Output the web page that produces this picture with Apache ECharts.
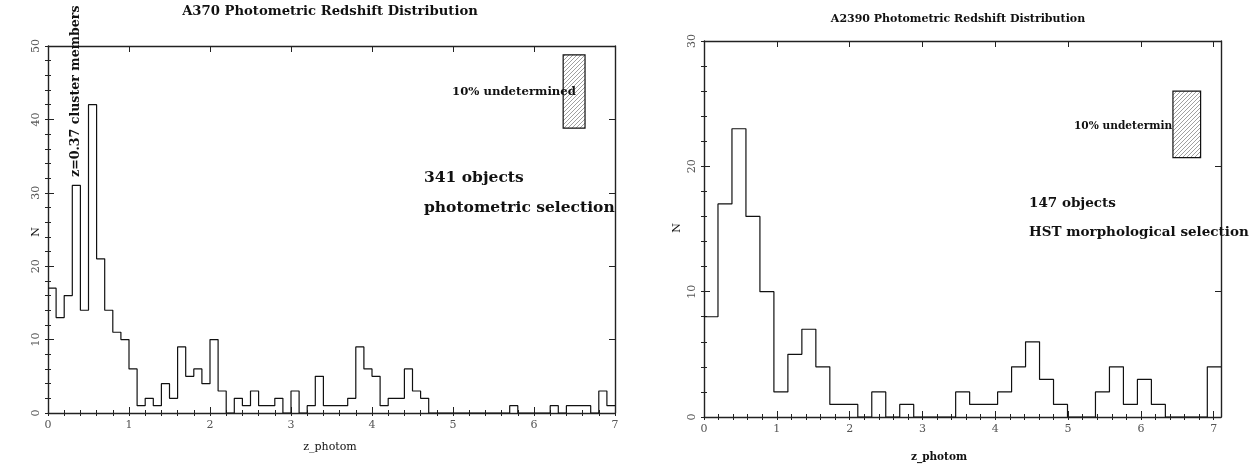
<!DOCTYPE html>
<html><head><meta charset="utf-8">
<script src="https://cdn.jsdelivr.net/npm/echarts@6/dist/echarts.min.js"></script>
<style>html,body{margin:0;padding:0;background:#fff}#c{width:1255px;height:465px}</style>
</head><body><div id="c"></div>
<script>
// ---- data ----
const leftCounts = [17,13,16,31,14,42,21,14,11,10, 6,1,2,1,4,2,9,5,6,4, 10,3,0,2,1,3,1,1,2,0, 3,0,1,5,1,1,1,2,9,6, 5,1,2,2,6,3,2,0,0,0, 0,0,0,0,0,0,0,1,0,0, 0,0,1,0,1,1,1,0,3,1];
const leftBinWidth = 0.1;
const rightCounts = [8,17,23,16,10,2,5,7,4,1, 1,0,2,0,1,0,0,0,2,1, 1,2,4,6,3,1,0,0,2,4, 1,3,1,0,0,0,4];
const rightBinWidth = 0.192;
const leftXTicks = [0,1,2,3,4,5,6,7];
const rightXTicks = [0,1,2,3,4,5,6,7];
const leftYTicks = [0,10,20,30,40,50];
const rightYTicks = [0,10,20,30];
const leftBox = [6.36, 6.63, 38.8, 48.8];   // undetermined box [x0,x1,y0,y1]
const rightBox = [6.44, 6.82, 20.7, 26.0];

// ---- helpers ----
function histPoints(counts, w, xmax){
  const pts = counts.map((v,i)=>[+(i*w).toFixed(4), v]);
  pts.push([Math.min(+(counts.length*w).toFixed(4), xmax), counts[counts.length-1]]);
  return pts;
}
function minorValues(max, step){ const a=[]; for(let v=0; v<=max+1e-9; v+=step) a.push(+v.toFixed(4)); return a; }

const SERIF = '"DejaVu Serif", "Liberation Serif", serif';
const AX = '#222';
const labelStyle = {fontFamily: SERIF, fontSize: 11, color: '#555'};

function xAxes(grid, max, ticks){
  const minor = minorValues(max, 0.2);
  const base = {type:'value', gridIndex:grid, min:0, max:max, splitLine:{show:false}};
  return [
    Object.assign({}, base, {position:'bottom', axisLine:{show:true, onZero:false, lineStyle:{color:AX,width:1.4}},
      axisTick:{show:true, inside:true, length:6, customValues:ticks, lineStyle:{color:AX}},
      axisLabel:{show:true, customValues:ticks, margin:7, ...labelStyle}}),
    Object.assign({}, base, {position:'bottom', axisLine:{show:false},
      axisTick:{show:true, inside:true, length:3, customValues:minor, lineStyle:{color:AX}}, axisLabel:{show:false}}),
    Object.assign({}, base, {position:'top', axisLine:{show:true, onZero:false, lineStyle:{color:AX,width:1.4}},
      axisTick:{show:true, inside:true, length:6, customValues:ticks, lineStyle:{color:AX}}, axisLabel:{show:false}}),
    Object.assign({}, base, {position:'top', axisLine:{show:false},
      axisTick:{show:true, inside:true, length:3, customValues:minor, lineStyle:{color:AX}}, axisLabel:{show:false}})
  ];
}
function yAxes(grid, max, ticks){
  const minor = minorValues(max, 2);
  const base = {type:'value', gridIndex:grid, min:0, max:max, splitLine:{show:false}};
  return [
    Object.assign({}, base, {position:'left', axisLine:{show:true, onZero:false, lineStyle:{color:AX,width:1.4}},
      axisTick:{show:true, inside:true, length:6, customValues:ticks, lineStyle:{color:AX}},
      axisLabel:{show:true, customValues:ticks, rotate:90, margin:6, ...labelStyle}}),
    Object.assign({}, base, {position:'left', axisLine:{show:false},
      axisTick:{show:true, inside:true, length:3, customValues:minor, lineStyle:{color:AX}}, axisLabel:{show:false}}),
    Object.assign({}, base, {position:'right', axisLine:{show:true, onZero:false, lineStyle:{color:AX,width:1.4}},
      axisTick:{show:true, inside:true, length:6, customValues:ticks, lineStyle:{color:AX}}, axisLabel:{show:false}}),
    Object.assign({}, base, {position:'right', axisLine:{show:false},
      axisTick:{show:true, inside:true, length:3, customValues:minor, lineStyle:{color:AX}}, axisLabel:{show:false}})
  ];
}

function hatchCanvas(){
  const c = document.createElement('canvas'); c.width = 4; c.height = 4;
  const g = c.getContext('2d');
  g.fillStyle = '#fff'; g.fillRect(0,0,4,4);
  g.strokeStyle = '#777'; g.lineWidth = 0.7;
  g.beginPath();
  g.moveTo(0,4); g.lineTo(4,0);
  g.moveTo(-1,1); g.lineTo(1,-1);
  g.moveTo(3,5); g.lineTo(5,3);
  g.stroke();
  return c;
}
const hatch = hatchCanvas();

function boxSeries(xi, yi, box){
  return {type:'custom', xAxisIndex:xi, yAxisIndex:yi, data:[box], encode:{x:[0,1], y:[2,3]}, z:3,
    renderItem:(p, api)=>{
      const a = api.coord([api.value(0), api.value(3)]);
      const b = api.coord([api.value(1), api.value(2)]);
      return {type:'rect', shape:{x:a[0], y:a[1], width:b[0]-a[0], height:b[1]-a[1]},
        style:{fill:{image:hatch, repeat:'repeat'}, stroke:'#111', lineWidth:1.2}};
    }};
}

function txt(x, y, text, size, opts){
  return Object.assign({type:'text', x:x, y:y, silent:true, z:10,
    style:{text:text, font:(opts && opts.bold===false ? '' : 'bold ') + size + 'px ' + SERIF,
      fill:'#111', textAlign:(opts && opts.align) || 'left', textVerticalAlign:'middle'}}, opts && opts.extra || {});
}

const chart = echarts.init(document.getElementById('c'), null, {renderer:'canvas'});
const option = {
  animation:false,
  backgroundColor:'#fff',
  grid:[
    {left:48, right:640, top:46, bottom:52},
    {left:704, right:34, top:41, bottom:48}
  ],
  xAxis: [...xAxes(0, 7, leftXTicks), ...xAxes(1, 7.1, rightXTicks)],
  yAxis: [...yAxes(0, 50, leftYTicks), ...yAxes(1, 30, rightYTicks)],
  series:[
    {type:'line', step:'end', xAxisIndex:0, yAxisIndex:0, symbol:'none', data:histPoints(leftCounts, leftBinWidth, 7),
      lineStyle:{color:'#111', width:1.2}, z:2},
    {type:'line', step:'end', xAxisIndex:4, yAxisIndex:4, symbol:'none', data:histPoints(rightCounts, rightBinWidth, 7.1),
      lineStyle:{color:'#111', width:1.2}, z:2},
    boxSeries(0, 0, leftBox),
    boxSeries(4, 4, rightBox)
  ],
  graphic:[
    txt(330, 12, 'A370 Photometric Redshift Distribution', 13.2, {align:'center'}),
    txt(958, 19, 'A2390 Photometric Redshift Distribution', 11, {align:'center'}),
    txt(330, 447, 'z_photom', 11, {bold:false, align:'center'}),
    txt(939, 457, 'z_photom', 10.5, {align:'center'}),
    txt(36, 232, 'N', 11, {bold:false, align:'center', extra:{rotation:Math.PI/2}}),
    txt(677, 228, 'N', 11, {bold:false, align:'center', extra:{rotation:Math.PI/2}}),
    txt(76, 177, 'z=0.37 cluster members', 12.6, {extra:{rotation:Math.PI/2}}),
    txt(452, 92, '10% undetermined', 11.7),
    txt(424, 178, '341 objects', 15.5),
    txt(424, 208, 'photometric selection', 15.5),
    txt(1074, 126, '10% undetermin', 10.6),
    txt(1029, 203, '147 objects', 13.5),
    txt(1029, 232, 'HST morphological selection', 13.5)
  ]
};
chart.setOption(option);
</script>
</body></html>
